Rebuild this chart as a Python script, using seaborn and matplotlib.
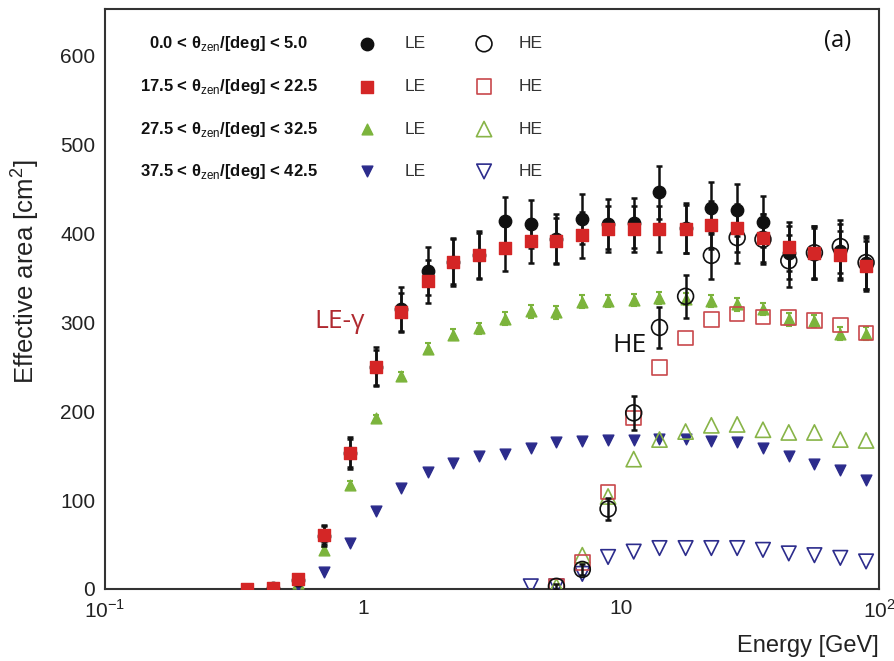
import numpy as np
import pandas as pd
import matplotlib
matplotlib.use("Agg")
import matplotlib.pyplot as plt
from matplotlib.ticker import MultipleLocator, FixedLocator, LogLocator, NullFormatter
import seaborn as sns

nan = np.nan

# Energy bin centres [GeV]
energy = [0.355, 0.447, 0.562, 0.708, 0.891, 1.12, 1.41, 1.78, 2.24, 2.82,
          3.55, 4.47, 5.62, 7.08, 8.91, 11.2, 14.1, 17.8, 22.4, 28.2,
          35.5, 44.7, 56.2, 70.8, 89.1]

# LE trigger
le_black = [nan, 1, 10, 60, 153, 250, 315, 358, 368, 376, 414, 410, 394, 416,
            410, 411, 446, 406, 428, 426, 413, 378, 378, 380, 366]
le_black_err = [nan, 2, 4, 12, 18, 22, 25, 27, 27, 27, 27, 27, 28, 28,
                28, 28, 30, 28, 29, 29, 29, 30, 30, 30, 29]
le_red = [0, 1, 11, 61, 153, 249, 311, 346, 368, 375, 383, 391, 391, 398,
          405, 405, 405, 405, 409, 406, 395, 385, 378, 375, 363]
le_red_err = [1, 2, 4, 10, 16, 20, 22, 24, 25, 25, 25, 25, 26, 26,
              26, 26, 26, 27, 27, 27, 27, 28, 28, 28, 28]
le_green = [nan, 1, 7, 44, 117, 192, 239, 270, 286, 293, 304, 312, 311, 323,
            324, 325, 327, 326, 324, 320, 315, 303, 301, 287, 287]
le_green_err = [nan, 1, 2, 3, 4, 4, 5, 6, 6, 6, 7, 7, 7, 7,
                7, 7, 7, 7, 7, 7, 7, 7, 7, 7, 7]
le_blue = [nan, 1, 4, 19, 52, 88, 114, 131, 142, 149, 152, 159, 165, 166,
           167, 167, 169, 169, 166, 165, 159, 149, 141, 134, 122]

# HE trigger
he_black = [nan] * 12 + [3, 22, 90, 198, 294, 329, 375, 395, 393, 369, 378, 385, 367]
he_black_err = [nan] * 12 + [3, 6, 12, 19, 23, 24, 26, 28, 28, 29, 30, 30, 30]
he_red = [nan] * 12 + [3, 30, 109, 192, 249, 282, 303, 309, 306, 305, 302, 297, 288]
he_green = [nan] * 12 + [3, 38, 104, 146, 168, 177, 184, 185, 179, 176, 176, 168, 167]
he_blue = [nan] * 11 + [3, 3, 17, 36, 42, 46, 46, 46, 46, 44, 40, 38, 35, 31]

zen_labels = [r"0.0 < θ$_{\rm zen}$/[deg] < 5.0",
              r"17.5 < θ$_{\rm zen}$/[deg] < 22.5",
              r"27.5 < θ$_{\rm zen}$/[deg] < 32.5",
              r"37.5 < θ$_{\rm zen}$/[deg] < 42.5"]

C_BLACK = "#111111"
C_RED = "#d42626"
C_GREEN = "#7cb43c"
C_BLUE = "#2c2c8c"
C_RED_OPEN = "#c8484c"
C_GREEN_OPEN = "#88b448"

sns.set_theme(style="white")
plt.rcParams["font.family"] = ["Liberation Sans", "DejaVu Sans"]
plt.rcParams["mathtext.fontset"] = "custom"
plt.rcParams["mathtext.rm"] = "Liberation Sans"

fig = plt.figure(figsize=(8.95, 6.61), dpi=100)
ax = fig.add_axes([105 / 895, 72 / 661, 774 / 895, 580 / 661])


def scat(y, marker, face, edge, size, lw=1.0, z=3):
    d = pd.DataFrame({"E": energy, "A": y}).dropna()
    sns.scatterplot(data=d, x="E", y="A", ax=ax, marker=marker, s=size,
                    color=face, edgecolor=edge, linewidth=lw, zorder=z,
                    legend=False)


def ebar(y, err, color, z=2, lw=1.8):
    d = pd.DataFrame({"E": energy, "A": y, "e": err}).dropna()
    ax.errorbar(d["E"], d["A"], yerr=d["e"], fmt="none", ecolor=color,
                elinewidth=lw, capsize=2.5, capthick=lw, zorder=z)


# green & blue LE
ebar(le_green, le_green_err, C_GREEN, z=2, lw=1.5)
scat(le_green, "^", C_GREEN, C_GREEN, 60, z=3)
scat(le_blue, "v", C_BLUE, C_BLUE, 60, z=3)
# HE open markers
scat(he_blue, "v", "none", C_BLUE, 110, lw=1.2, z=4)
scat(he_green, "^", "none", C_GREEN_OPEN, 120, lw=1.2, z=4)
scat(he_red, "s", "none", C_RED_OPEN, 110, lw=1.2, z=4)
ebar(he_black, he_black_err, C_BLACK, z=4)
scat(he_black, "o", "none", C_BLACK, 130, lw=1.2, z=5)
# black & red LE
ebar(le_black, le_black_err, C_BLACK, z=5)
scat(le_black, "o", C_BLACK, C_BLACK, 80, z=6)
ebar(le_red, le_red_err, C_BLACK, z=5)
scat(le_red, "s", C_RED, C_RED, 70, z=7)

ax.set_xscale("log")
ax.set_xlim(0.1, 100)
ax.set_ylim(0, 652)

ax.xaxis.set_major_locator(FixedLocator([0.1, 1, 10, 100]))
ax.set_xticklabels([r"10$^{-1}$", "1", "10", r"10$^{2}$"])
ax.xaxis.set_minor_locator(LogLocator(base=10, subs=np.arange(2, 10)))
ax.xaxis.set_minor_formatter(NullFormatter())
ax.yaxis.set_major_locator(MultipleLocator(100))
ax.yaxis.set_minor_locator(MultipleLocator(20))

ax.tick_params(axis="both", which="major", direction="in", length=12,
               width=1.2, color="#333333", labelsize=15, pad=7,
               labelcolor="#222222")
ax.tick_params(axis="both", which="minor", direction="in", length=6,
               width=1.0, color="#333333")
ax.tick_params(top=False, right=False, which="both")

for sp in ax.spines.values():
    sp.set_color("#333333")
    sp.set_linewidth(1.5)

ax.set_xlabel("Energy [GeV]", fontsize=17, color="#222222", loc="right",
              labelpad=10)
ax.set_ylabel(r"Effective area [cm$^{2}$]", fontsize=18.5, color="#222222")
ax.yaxis.set_label_coords(-0.083, 0.547)

# custom legend
rows_y = [0.94, 0.866, 0.793, 0.72]
le_m = [("o", C_BLACK, C_BLACK, 80), ("s", C_RED, C_RED, 70),
        ("^", C_GREEN, C_GREEN, 60), ("v", C_BLUE, C_BLUE, 60)]
he_m = [("o", C_BLACK, 130), ("s", C_RED_OPEN, 110),
        ("^", C_GREEN_OPEN, 120), ("v", C_BLUE, 110)]
for i, yy in enumerate(rows_y):
    ax.text(0.16, yy, zen_labels[i], transform=ax.transAxes, ha="center",
            va="center", fontsize=12, fontweight="bold", color="#111111")
    m, fc, ec, s = le_m[i]
    ax.scatter([0.3385], [yy], transform=ax.transAxes, marker=m, s=s,
               color=fc, edgecolor=ec, zorder=8, clip_on=False)
    ax.text(0.401, yy, "LE", transform=ax.transAxes, ha="center",
            va="center", fontsize=12.5, color="#333333")
    m, ec, s = he_m[i]
    ax.scatter([0.4897], [yy], transform=ax.transAxes, marker=m, s=s,
               facecolor="none", edgecolor=ec, linewidth=1.2, zorder=8,
               clip_on=False)
    ax.text(0.5505, yy, "HE", transform=ax.transAxes, ha="center",
            va="center", fontsize=12.5, color="#333333")

ax.text(0.3036, 0.462, "LE-γ", transform=ax.transAxes, ha="center",
        va="center", fontsize=19, color="#b02a30", family="Open Sans")
ax.text(0.678, 0.419, "HE", transform=ax.transAxes, ha="center",
        va="center", fontsize=19, color="#111111", family="Open Sans")
ax.text(0.947, 0.944, "(a)", transform=ax.transAxes, ha="center",
        va="center", fontsize=17, color="#111111", family="Open Sans")

fig.savefig("out.png", dpi=100)
